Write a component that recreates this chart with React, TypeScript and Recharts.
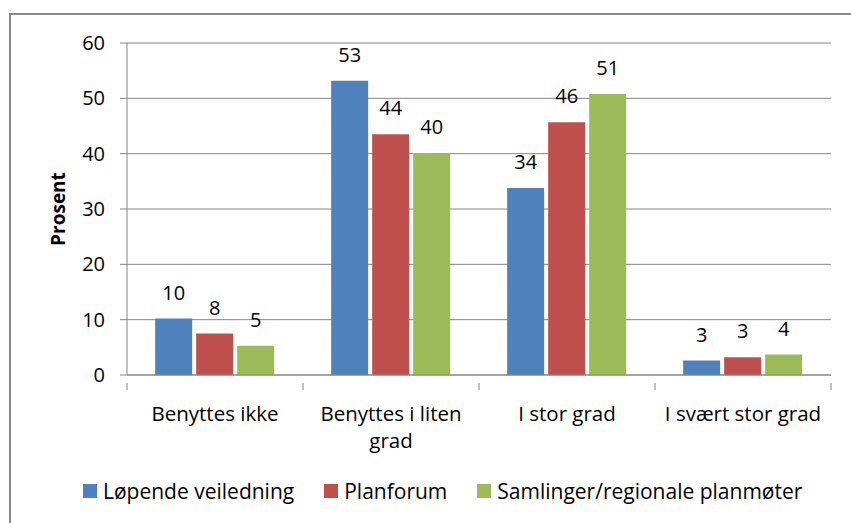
import { BarChart, Bar, XAxis, YAxis, CartesianGrid, Legend, LabelList } from "recharts";

const categories = ["Benyttes ikke", "Benyttes i liten grad", "I stor grad", "I svært stor grad"];
const tickLines = [["Benyttes ikke"], ["Benyttes i liten", "grad"], ["I stor grad"], ["I svært stor grad"]];
const lopende = [10.2, 53.2, 33.8, 2.6];
const planforum = [7.5, 43.5, 45.7, 3.2];
const samlinger = [5.3, 40.1, 50.8, 3.7];
const yTicks = [0, 10, 20, 30, 40, 50, 60];

const series = [
    { key: "lopende", name: "Løpende veiledning", color: "#4F81BD" },
    { key: "planforum", name: "Planforum", color: "#C0504D" },
    { key: "samlinger", name: "Samlinger/regionale planmøter", color: "#9BBB59" },
];

const data = categories.map((name, i) => ({
    name,
    lopende: lopende[i],
    planforum: planforum[i],
    samlinger: samlinger[i],
}));

const FONT = "'Open Sans', sans-serif";
const FS = 20;
const PLOT_W = 704;
const GRID = "#868686";

const CategoryTick = (props: any) => {
    const { x, y, payload, index } = props;
    const half = PLOT_W / categories.length / 2;
    const lines = tickLines[index] || [payload.value];
    return (
        <g>
            <line x1={x - half} y1={y} x2={x - half} y2={y + 7} stroke={GRID} />
            {index === categories.length - 1 && (
                <line x1={x + half} y1={y} x2={x + half} y2={y + 7} stroke={GRID} />
            )}
            {lines.map((l: string, k: number) => (
                <text
                    key={k}
                    x={x}
                    y={y + 38 + k * 27}
                    textAnchor="middle"
                    fontFamily={FONT}
                    fontSize={20.5}
                    fill="#000"
                >
                    {l}
                </text>
            ))}
        </g>
    );
};

const LegendContent = () => (
    <div
        style={{
            display: "flex",
            alignItems: "center",
            fontFamily: FONT,
            fontSize: 21,
            color: "#000",
            height: 30,
            whiteSpace: "nowrap",
        }}
    >
        {series.map((s) => (
            <div key={s.key} style={{ display: "flex", alignItems: "center", marginRight: 30 }}>
                <span style={{ width: 14, height: 14, background: s.color, marginRight: 6, display: "inline-block" }} />
                <span>{s.name}</span>
            </div>
        ))}
    </div>
);

const App = () => {
    return (
        <div style={{ position: "fixed", left: 0, top: 0, width: 851, height: 523, overflow: "hidden", background: "#fff" }}>
            <div
                style={{
                    position: "absolute",
                    left: 9,
                    top: 13,
                    width: 900,
                    height: 600,
                    border: "2px solid #898989",
                    boxSizing: "border-box",
                }}
            />
            <div style={{ position: "absolute", left: 0, top: 0 }}>
                <BarChart
                    width={851}
                    height={523}
                    data={data}
                    margin={{ top: 43, right: 20, left: 0, bottom: 0 }}
                    barCategoryGap="16%"
                    barGap={4}
                >
                    <CartesianGrid vertical={false} stroke={GRID} />
                    <XAxis
                        dataKey="name"
                        axisLine={{ stroke: GRID }}
                        tickLine={false}
                        interval={0}
                        height={118}
                        tick={<CategoryTick />}
                    />
                    <YAxis
                        width={127}
                        domain={[0, 60]}
                        ticks={yTicks}
                        axisLine={{ stroke: GRID }}
                        tickLine={{ stroke: GRID }}
                        tickSize={7}
                        tickMargin={15}
                        tick={{ fill: "#000", fontFamily: FONT, fontSize: FS }}
                        label={{
                            content: (p: any) => {
                                const vb = p.viewBox || { x: 0, y: 43, height: 332 };
                                const cx = vb.x + 65;
                                const cy = vb.y + vb.height / 2;
                                return (
                                    <text
                                        x={cx}
                                        y={cy}
                                        transform={`rotate(-90, ${cx}, ${cy})`}
                                        textAnchor="middle"
                                        fontFamily={FONT}
                                        fontWeight="bold"
                                        fontSize={19}
                                        fill="#000"
                                    >
                                        Prosent
                                    </text>
                                );
                            },
                        }}
                    />
                    <Legend
                        verticalAlign="bottom"
                        content={<LegendContent />}
                        wrapperStyle={{ left: 83, top: 476, width: "auto", height: 30 }}
                    />
                    {series.map((s) => (
                        <Bar key={s.key} dataKey={s.key} name={s.name} fill={s.color} isAnimationActive={false}>
                            <LabelList
                                dataKey={s.key}
                                position="top"
                                offset={19}
                                formatter={(v: any) => Math.round(Number(v))}
                                style={{ fill: "#000", fontFamily: FONT, fontSize: FS }}
                            />
                        </Bar>
                    ))}
                </BarChart>
            </div>
        </div>
    );
};

export default App;
